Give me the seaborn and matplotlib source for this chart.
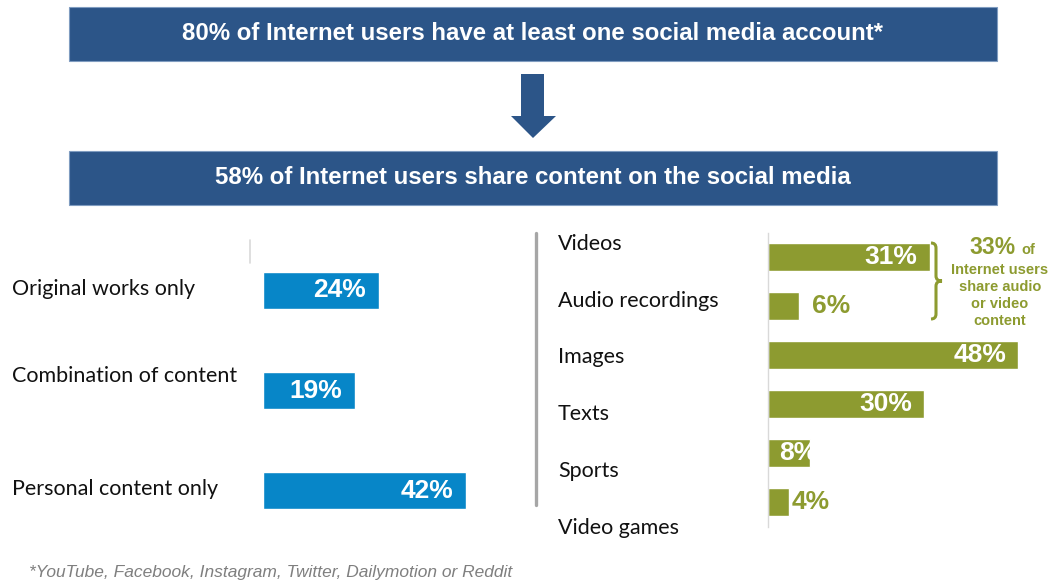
import matplotlib
matplotlib.use("Agg")
import matplotlib.pyplot as plt
from matplotlib.patches import Rectangle, Polygon
from matplotlib.lines import Line2D
from matplotlib.path import Path
from matplotlib.patches import PathPatch
import seaborn as sns
import pandas as pd

# ---- data ----
headline_top = "80% of Internet users have at least one social media account*"
headline_mid = "58% of Internet users share content on the social media"

share_types = ["Original works only", "Combination of content", "Personal content only"]
share_values = [24, 19, 42]

content_types = ["Videos", "Audio recordings", "Images", "Texts", "Sports", "Video games"]
content_values = [31, 6, 48, 30, 8, 4]

av_total = 33
av_note = ["Internet users", "share audio", "or video", "content"]
footnote = "*YouTube, Facebook, Instagram, Twitter, Dailymotion or Reddit"

# ---- styling ----
W, H = 1056, 583
NAVY = "#2C5588"
BLUE = "#0786C8"
OLIVE = "#8D9B30"
LABEL_FONT = ["Lato", "DejaVu Sans"]
BOLD_FONT = ["Liberation Sans", "DejaVu Sans"]

sns.set_theme(style="white")
plt.rcParams["font.family"] = LABEL_FONT

fig = plt.figure(figsize=(W / 100, H / 100), dpi=100)


def fx(x):
    return x / W


def fy(y):
    return 1 - y / H


def box(x0, y0, x1, y1):
    return [fx(x0), fy(y1), fx(x1) - fx(x0), fy(y0) - fy(y1)]


# ---- banners and arrow ----
for (y0, y1, txt) in [(7, 61, headline_top), (151, 205, headline_mid)]:
    fig.patches.append(Rectangle((fx(69), fy(y1)), fx(997) - fx(69), fy(y0) - fy(y1),
                                 transform=fig.transFigure, facecolor=NAVY,
                                 edgecolor="#7F9CC0", linewidth=0.8))
    fig.text(fx(533), fy((y0 + y1) / 2), txt, ha="center", va="center",
             color="white", fontsize=17.3, fontweight="bold", family=BOLD_FONT)

arrow_px = [(521, 74), (544, 74), (544, 116), (556, 116), (533, 138), (511, 116), (521, 116)]
fig.patches.append(Polygon([(fx(x), fy(y)) for x, y in arrow_px], closed=True,
                           transform=fig.transFigure, facecolor=NAVY, edgecolor="none"))

# ---- left panel: type of shared content ----
axL = fig.add_axes(box(250, 240, 505, 541))
dfL = pd.DataFrame({"type": share_types, "pct": share_values})
sns.barplot(data=dfL, x="pct", y="type", order=share_types, orient="h",
            color=BLUE, width=0.37, saturation=1, ax=axL)
axL.set_xlim(-2.686, 50)
axL.set_ylim(2.5, -0.5)
axL.set_axis_off()
axL.plot([-2.686, -2.686], [-0.5, -0.27], color="#D9D9D9", lw=1.2, clip_on=False)
for i, v in enumerate(share_values):
    axL.annotate(f"{v}%", xy=(v, i), xytext=(-13, 0), textcoords="offset pixels",
                 ha="right", va="center", color="white", fontsize=19,
                 fontweight="bold", family=BOLD_FONT)

left_label_baselines = [295, 381.5, 495]
for name, yb in zip(share_types, left_label_baselines):
    fig.text(fx(12), fy(yb), name, ha="left", va="baseline", fontsize=15.5,
             color="#111111")

# separator between the panels
fig.add_artist(Line2D([fx(536), fx(536)], [fy(233), fy(505)], transform=fig.transFigure,
                      color="#A6A6A6", lw=2.4))

# ---- right panel: shared content by format ----
axR = fig.add_axes(box(768, 232.5, 1054.6, 526.5))
dfR = pd.DataFrame({"content": content_types, "pct": content_values})
sns.barplot(data=dfR, x="pct", y="content", order=content_types, orient="h",
            color=OLIVE, width=0.57, saturation=1, ax=axR)
axR.set_xlim(0, 55)
axR.set_ylim(5.5, -0.5)
axR.set_xticks([])
axR.set_yticks([])
axR.set_xlabel("")
axR.set_ylabel("")
for side in ["top", "right", "bottom"]:
    axR.spines[side].set_visible(False)
axR.spines["left"].set_color("#D9D9D9")
axR.spines["left"].set_linewidth(1.0)
axR.patch.set_alpha(0)

# where each value label sits: inside the bar end, outside it, or from the bar start
label_modes = ["inside", "outside", "inside", "inside", "start", "outside"]
label_pads = [12, 13, 12, 12, 11, 3]
bars = axR.containers[0]
for i, (v, mode, pad) in enumerate(zip(content_values, label_modes, label_pads)):
    if mode == "inside":
        axR.annotate(f"{v}%", xy=(v, i), xytext=(-pad, 0), textcoords="offset pixels",
                     ha="right", va="center", color="white", fontsize=19,
                     fontweight="bold", family=BOLD_FONT)
    elif mode == "outside":
        axR.annotate(f"{v}%", xy=(v, i), xytext=(pad, 0), textcoords="offset pixels",
                     ha="left", va="center", color=OLIVE, fontsize=19,
                     fontweight="bold", family=BOLD_FONT)
    else:
        t = axR.annotate(f"{v}%", xy=(0, i), xytext=(pad, 0), textcoords="offset pixels",
                         ha="left", va="center", color="white", fontsize=19,
                         fontweight="bold", family=BOLD_FONT)
        t.set_clip_path(bars[i])

right_label_baselines = [250, 307, 363, 419.5, 477, 534]
for name, yb in zip(content_types, right_label_baselines):
    fig.text(fx(558), fy(yb), name, ha="left", va="baseline", fontsize=15.5,
             color="#111111")

# curly brace grouping videos and audio recordings
bx, btop, bbot, bmid = 933, 243, 319, 281
verts = [
    (bx - 2, btop), (bx + 3, btop), (bx + 3, btop + 5),
    (bx + 3, bmid - 5), (bx + 3, bmid), (bx + 9, bmid),
    (bx + 3, bmid), (bx + 3, bmid + 5),
    (bx + 3, bbot - 5), (bx + 3, bbot), (bx - 2, bbot),
]
codes = [Path.MOVETO, Path.CURVE3, Path.CURVE3,
         Path.LINETO, Path.CURVE3, Path.CURVE3,
         Path.CURVE3, Path.CURVE3,
         Path.LINETO, Path.CURVE3, Path.CURVE3]
brace = Path([(fx(x), fy(y)) for x, y in verts], codes)
fig.patches.append(PathPatch(brace, transform=fig.transFigure, facecolor="none",
                             edgecolor=OLIVE, lw=2.2))

fig.text(fx(1016), fy(254), f"{av_total}%", ha="right", va="baseline", color=OLIVE,
         fontsize=16.5, fontweight="bold", family=BOLD_FONT)
fig.text(fx(1021), fy(254), "of", ha="left", va="baseline", color=OLIVE,
         fontsize=10.5, fontweight="bold", family=BOLD_FONT)
for line, yc in zip(av_note, [270, 287, 304, 321]):
    fig.text(fx(1000), fy(yc), line, ha="center", va="center", color=OLIVE,
             fontsize=10.5, fontweight="bold", family=BOLD_FONT)

# ---- footnote ----
fig.text(fx(29), fy(572), footnote, ha="left", va="center", color="#7F7F7F",
         fontsize=12.5, style="italic", family=BOLD_FONT)

fig.savefig("out.png", dpi=100)
